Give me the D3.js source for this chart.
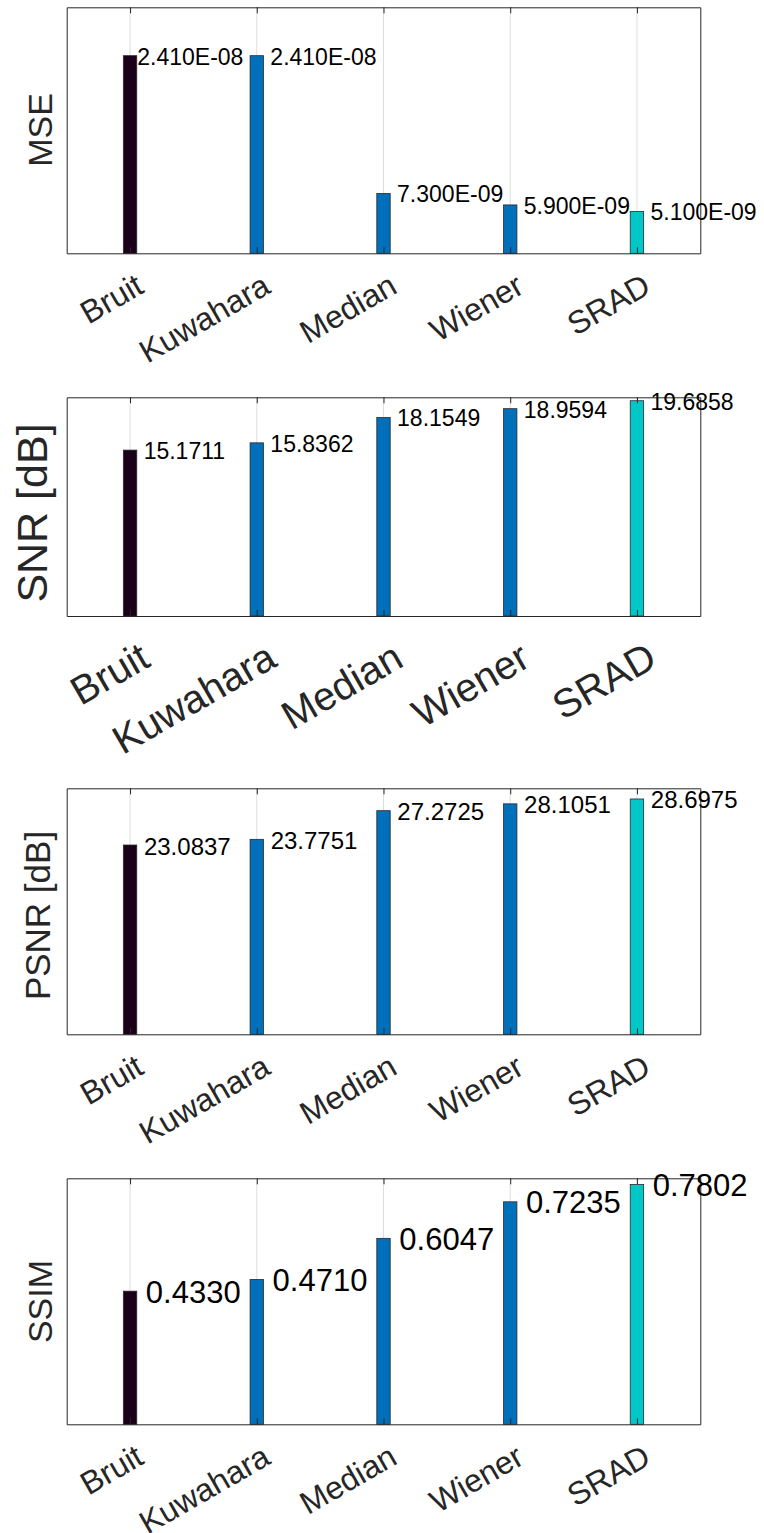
<!DOCTYPE html>
<html>
<head>
<meta charset="utf-8">
<script src="https://cdn.jsdelivr.net/npm/d3@7"></script>
<style>
  html, body { margin: 0; padding: 0; background: #fff; }
  svg { display: block; font-family: "Liberation Sans", Arial, Helvetica, sans-serif; }
  .val { white-space: pre; }
</style>
</head>
<body>
<svg id="chart" width="764" height="1533"></svg>
<script>
// ---- data ----
const categories = ["Bruit", "Kuwahara", "Median", "Wiener", "SRAD"];
const barColors = ["#1b0019", "#0070bb", "#0070bb", "#0070bb", "#00c8c8"];

const mseValues  = [2.41e-8, 2.41e-8, 7.3e-9, 5.9e-9, 5.1e-9];
const mseLabels  = ["2.410E-08", " 2.410E-08", " 7.300E-09", " 5.900E-09", " 5.100E-09"];
const snrValues  = [15.1711, 15.8362, 18.1549, 18.9594, 19.6858];
const snrLabels  = [" 15.1711", " 15.8362", " 18.1549", " 18.9594", " 19.6858"];
const psnrValues = [23.0837, 23.7751, 27.2725, 28.1051, 28.6975];
const psnrLabels = [" 23.0837", " 23.7751", " 27.2725", " 28.1051", " 28.6975"];
const ssimValues = [0.4330, 0.4710, 0.6047, 0.7235, 0.7802];
const ssimLabels = [" 0.4330", " 0.4710", " 0.6047", " 0.7235", " 0.7802"];

const yTitles = ["MSE", "SNR [dB]", "PSNR [dB]", "SSIM"];
const yMaxes  = [3e-8, 20, 30, 0.8];

// ---- layout ----
const panels = [
  { values: mseValues,  labels: mseLabels,  top: 7.3,    bottom: 253.3,  titleX: 51.5, titleY: 130,    titleSize: 34, valSize: 23, tickSize: 32, tickDx: 10, tickDy: 29 },
  { values: snrValues,  labels: snrLabels,  top: 397.3,  bottom: 616,    titleX: 46.5, titleY: 513,    titleSize: 43, valSize: 23, tickSize: 40, tickDx: 15, tickDy: 37 },
  { values: psnrValues, labels: psnrLabels, top: 788.3,  bottom: 1034.3, titleX: 50,   titleY: 915.5,  titleSize: 35, valSize: 24, tickSize: 32, tickDx: 10, tickDy: 29 },
  { values: ssimValues, labels: ssimLabels, top: 1178.3, bottom: 1424.3, titleX: 51.5, titleY: 1301.5, titleSize: 34, valSize: 31, tickSize: 32, tickDx: 10, tickDy: 29 }
];
const axisColor = "#262626";
const barHalf = 6.7;

const svg = d3.select("#chart");
const x = d3.scaleLinear().domain([0.5, 5.5]).range([66.7, 700.3]);
const idx = categories.map((c, i) => i + 1);

panels.forEach((p, k) => {
  const y = d3.scaleLinear().domain([0, yMaxes[k]]).range([p.bottom, p.top]);
  const g = svg.append("g");

  // grid lines
  g.append("g").selectAll("line").data(idx).join("line")
    .attr("x1", d => x(d)).attr("x2", d => x(d))
    .attr("y1", p.top).attr("y2", p.bottom)
    .attr("stroke", "#dedede").attr("stroke-width", 1);

  // bars
  g.append("g").selectAll("rect").data(p.values).join("rect")
    .attr("x", (d, i) => x(i + 1) - barHalf)
    .attr("width", barHalf * 2)
    .attr("y", d => y(d))
    .attr("height", d => p.bottom - y(d))
    .attr("fill", (d, i) => barColors[i])
    .attr("stroke", "#2a2a2a").attr("stroke-width", 0.8);

  // axes (box + inward ticks)
  const bAx = g.append("g").attr("transform", `translate(0,${p.bottom})`)
    .call(d3.axisBottom(x).tickValues(idx).tickSize(-6).tickSizeOuter(0).tickFormat(""));
  const tAx = g.append("g").attr("transform", `translate(0,${p.top})`)
    .call(d3.axisTop(x).tickValues(idx).tickSize(-6).tickSizeOuter(0).tickFormat(""));
  const lAx = g.append("g").attr("transform", `translate(${x(0.5)},0)`)
    .call(d3.axisLeft(y).tickValues([]).tickSizeOuter(0));
  const rAx = g.append("g").attr("transform", `translate(${x(5.5)},0)`)
    .call(d3.axisRight(y).tickValues([]).tickSizeOuter(0));
  [bAx, tAx, lAx, rAx].forEach(a => {
    a.selectAll("path, line").attr("stroke", axisColor).attr("stroke-width", 1);
  });

  // value labels
  g.append("g").selectAll("text").data(p.values).join("text")
    .attr("class", "val")
    .attr("x", (d, i) => x(i + 1) + barHalf + 0.5)
    .attr("y", d => y(d) + 1)
    .attr("dominant-baseline", "central")
    .attr("font-size", p.valSize)
    .attr("fill", "#000")
    .text((d, i) => p.labels[i]);

  // rotated category labels
  g.append("g").selectAll("text").data(categories).join("text")
    .attr("transform", (d, i) => `translate(${x(i + 1) + p.tickDx},${p.bottom + p.tickDy}) rotate(-30)`)
    .attr("text-anchor", "end")
    .attr("dominant-baseline", "central")
    .attr("font-size", p.tickSize)
    .attr("fill", axisColor)
    .text(d => d);

  // y title
  g.append("text")
    .attr("transform", `translate(${p.titleX},${p.titleY}) rotate(-90)`)
    .attr("text-anchor", "middle")
    .attr("font-size", p.titleSize)
    .attr("fill", axisColor)
    .text(yTitles[k]);
});
</script>
</body>
</html>
